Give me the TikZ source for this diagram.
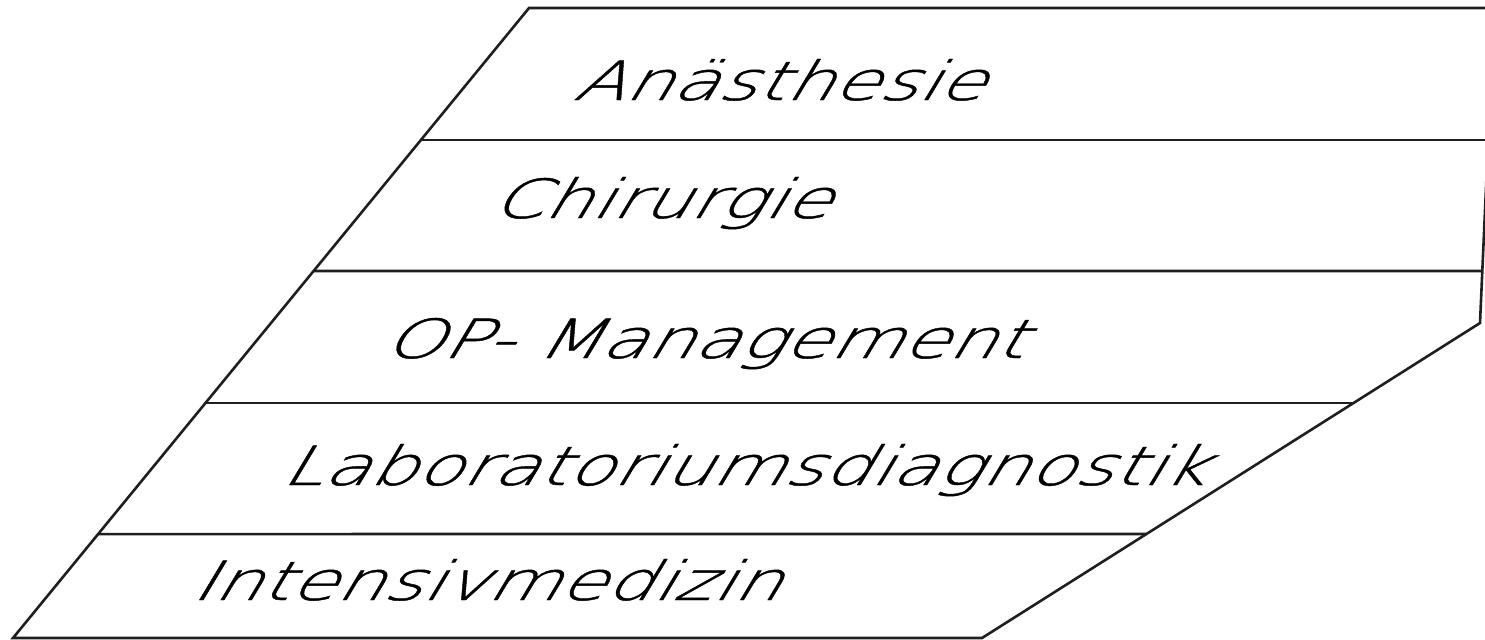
\documentclass[tikz,border=0pt]{standalone}
\usepackage{fontspec}
\newfontfamily\layerfont{DejaVu Sans ExtraLight}[FakeStretch=1.38,FakeSlant=0.6,FakeBold=0.8]
\usetikzlibrary{calc}
\tikzset{
    outline/.style={line width=1.3pt,draw=black!88,line join=miter},
    divider/.style={line width=1.3pt,draw=black!88},
    layer/.style={anchor=base west,inner sep=0pt,font=\layerfont\fontsize{27}{30}\selectfont}
}

\begin{document}
\begin{tikzpicture}[x=0.5pt,y=-0.5pt]
    \useasboundingbox (0,0) rectangle (1485,639);
    \clip (0,0) rectangle (1485,639);

    % corners of the slab
    \coordinate (bl) at (13,638);
    \coordinate (tl) at (529,8);
    \coordinate (tr) at (1494,8);
    \coordinate (rk) at (1480,323);
    \coordinate (br) at (982,638);

    \draw[outline] (bl) -- (tl) -- (tr) -- (rk) -- (br) -- cycle;

    % dividers between the layers
    \draw[divider] ($(bl)!0.7905!(tl)$) -- ($(tr)!0.419!(rk)$);
    \draw[divider] ($(bl)!0.5825!(tl)$) -- ($(tr)!0.835!(rk)$);
    \draw[divider] ($(bl)!0.373!(tl)$)  -- ($(rk)!0.254!(br)$);
    \draw[divider] ($(bl)!0.165!(tl)$)  -- ($(rk)!0.6698!(br)$);

    % layer labels
    \node[layer] (anaesth) at (572,100) {Anästhesie};
    \node[layer] (chir)    at (490,218) {Chirurgie};
    \node[layer] (opman)   at (382,358) {OP- Management};
    \node[layer] (labor)   at (280,485) {Laboratoriumsdiagnostik};
    \node[layer] (intens)  at (190,600) {Intensivmedizin};
\end{tikzpicture}
\end{document}
